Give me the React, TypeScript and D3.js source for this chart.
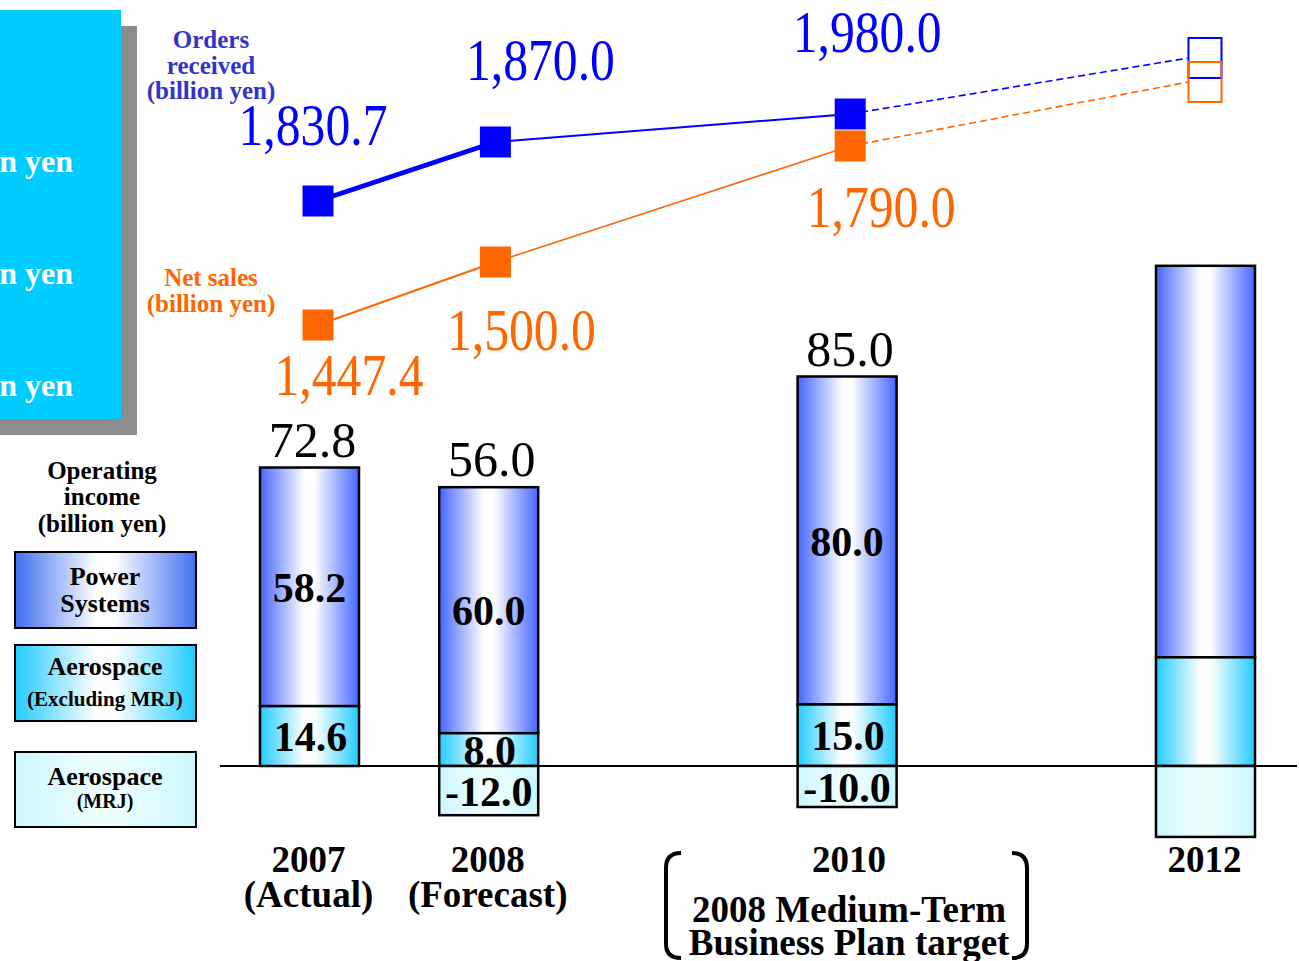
import React from "react";
import * as d3 from "d3";

// ---- data ----
const years = [2007, 2008, 2010, 2012];
const yearCaptions = [["2007", "(Actual)"], ["2008", "(Forecast)"], ["2010"], ["2012"]];
const powerSystems = [58.2, 60.0, 80.0, 95.5];
const aerospaceExMRJ = [14.6, 8.0, 15.0, 26.5];
const aerospaceMRJ = [0, -12.0, -10.0, -17.3];
const labelledBars = [true, true, true, false];
const ordersReceived = [1830.7, 1870.0, 1980.0, 2200.0];
const netSales = [1447.4, 1500.0, 1790.0, 1950.0];
const labelledPoints = [true, true, true, false];

const W = 1299;
const H = 961;
const SERIF = "'Liberation Serif', 'Times New Roman', serif";

const ORDERS_COLOR = "#0000ff";
const SALES_COLOR = "#ff6600";

// scales
const xBar = d3.scaleLinear().domain([2007, 2012]).range([309.5, 1205.5]);
const xLine = d3.scaleLinear().domain([2007, 2012]).range([318, 1205]);
const yBar = d3.scaleLinear().domain([0, 100]).range([766, 356]);
const yOrders = d3.scaleLinear().domain(ordersReceived.slice(0, 3)).range([201, 142, 114]);
const ySales = d3.scaleLinear().domain(netSales.slice(0, 3)).range([325, 262, 146]);

const BAR_W = 99;
const MARK = 31;
const fmtBig = d3.format(",.1f");
const fmt1 = (v: number) => v.toFixed(1);

// label offsets relative to each marker (layout)
const ordersLabelOffset = [[-5, -56], [45, -62], [17, -62]];
const salesLabelOffset = [[31, 70], [26, 88], [31, 81]];

function Grad({ id, edge, mid }: { id: string; edge: string; mid: string }) {
  return (
    <linearGradient id={id} x1="0" x2="1" y1="0" y2="0">
      <stop offset="0" stopColor={edge} />
      <stop offset="0.45" stopColor={mid} />
      <stop offset="0.55" stopColor={mid} />
      <stop offset="1" stopColor={edge} />
    </linearGradient>
  );
}

export default function App() {
  const bars = years.map((yr, i) => {
    const cx = xBar(yr);
    const x0 = cx - BAR_W / 2;
    const aero = aerospaceExMRJ[i];
    const power = powerSystems[i];
    const mrj = aerospaceMRJ[i];
    const total = power + aero + mrj;
    return { yr, i, cx, x0, aero, power, mrj, total };
  });

  const lineGen = d3.line<[number, number]>().x((d) => d[0]).y((d) => d[1]);

  const seriesPaths = (
    values: number[],
    yScale: d3.ScaleLinear<number, number>,
    color: string,
    widths: number[]
  ) => {
    const pts: [number, number][] = values.map((v, i) => [xLine(years[i]), yScale(v)]);
    const out: React.ReactNode[] = [];
    for (let i = 0; i < pts.length - 1; i++) {
      const solid = labelledPoints[i + 1];
      let b = pts[i + 1];
      if (!solid) b = [b[0] - 16.5, b[1]];
      out.push(
        <path
          key={`seg${i}`}
          d={lineGen([pts[i], b]) || ""}
          stroke={color}
          strokeWidth={solid ? widths[i] : 1.6}
          strokeDasharray={solid ? undefined : "7,4"}
          fill="none"
        />
      );
    }
    return { pts, out };
  };

  const orders = seriesPaths(ordersReceived, yOrders, ORDERS_COLOR, [5, 2]);
  const sales = seriesPaths(netSales, ySales, SALES_COLOR, [2, 1.6]);

  const markers = (pts: [number, number][], color: string, key: string) =>
    pts.map((p, i) =>
      labelledPoints[i] ? (
        <rect key={key + i} x={p[0] - MARK / 2} y={p[1] - MARK / 2} width={MARK} height={MARK} fill={color} />
      ) : (
        <rect key={key + i} x={p[0] - 16.5} y={p[1] - 20} width={33} height={40} fill="none" stroke={color} strokeWidth={2} />
      )
    );

  const boldText = (
    key: string,
    x: number,
    y: number,
    txt: string,
    size: number,
    fill = "#000",
    extra: Record<string, unknown> = {}
  ) => (
    <text key={key} x={x} y={y} fontFamily={SERIF} fontWeight="bold" fontSize={size} fill={fill} textAnchor="middle" {...extra}>
      {txt}
    </text>
  );

  const zeroY = yBar(0);

  return (
    <svg width={W} height={H} style={{ position: "absolute", left: 0, top: 0, background: "#fff" }}>
      <defs>
        <Grad id="gPower" edge="#4466ff" mid="#ffffff" />
        <Grad id="gAero" edge="#22ccff" mid="#ffffff" />
        <Grad id="gMRJ" edge="#ccf7ff" mid="#eefeff" />
        <Grad id="gPowerKey" edge="#3f6ff0" mid="#ffffff" />
      </defs>

      {/* cyan panel with drop shadow */}
      <rect x={-20} y={26} width={157} height={409} fill="#8c8c8c" />
      <rect x={-20} y={10} width={141} height={409} fill="#00ccff" />
      {[172, 284, 396].map((y, i) => (
        <text key={"py" + i} x={73} y={y} fontFamily={SERIF} fontWeight="bold" fontSize={32} fill="#fff" textAnchor="end">
          billion yen
        </text>
      ))}

      {/* series captions */}
      {boldText("o1", 211, 48, "Orders", 25, "#3333cc")}
      {boldText("o2", 211, 74, "received", 25, "#3333cc")}
      {boldText("o3", 211, 99, "(billion yen)", 25, "#3333cc")}
      {boldText("s1", 211, 286, "Net sales", 25, SALES_COLOR)}
      {boldText("s2", 211, 312, "(billion yen)", 25, SALES_COLOR)}

      {/* operating income key */}
      {boldText("k1", 102, 479, "Operating", 25)}
      {boldText("k2", 102, 505, "income", 25)}
      {boldText("k3", 102, 532, "(billion yen)", 25)}
      <rect x={15} y={552} width={181} height={76} fill="url(#gPowerKey)" stroke="#000" strokeWidth={2} />
      {boldText("k4", 105, 585, "Power", 26)}
      {boldText("k5", 105, 612, "Systems", 26)}
      <rect x={15} y={645} width={181} height={76} fill="url(#gAero)" stroke="#000" strokeWidth={2} />
      {boldText("k6", 105, 675, "Aerospace", 26)}
      {boldText("k7", 105, 706, "(Excluding MRJ)", 21)}
      <rect x={15} y={752} width={181} height={75} fill="url(#gMRJ)" stroke="#000" strokeWidth={2} />
      {boldText("k8", 105, 785, "Aerospace", 26)}
      {boldText("k9", 105, 808, "(MRJ)", 20)}

      {/* stacked operating income bars */}
      {bars.map((b) => (
        <g key={"bar" + b.yr}>
          <rect x={b.x0} y={yBar(b.aero + b.power)} width={BAR_W} height={yBar(b.aero) - yBar(b.aero + b.power)} fill="url(#gPower)" stroke="#000" strokeWidth={2.5} />
          <rect x={b.x0} y={yBar(b.aero)} width={BAR_W} height={zeroY - yBar(b.aero)} fill="url(#gAero)" stroke="#000" strokeWidth={2.5} />
          {b.mrj < 0 && (
            <rect x={b.x0} y={zeroY} width={BAR_W} height={yBar(b.mrj) - zeroY} fill="url(#gMRJ)" stroke="#000" strokeWidth={2.5} />
          )}
          {labelledBars[b.i] && (
            <>
              {boldText("lp", b.cx, (yBar(b.aero + b.power) + yBar(b.aero)) / 2 + 15, fmt1(b.power), 42)}
              {boldText("la", b.cx + 1, (yBar(b.aero) + zeroY) / 2 + 15, fmt1(b.aero), 42)}
              {b.mrj < 0 && boldText("lm", b.cx, (zeroY + yBar(b.mrj)) / 2 + 15, fmt1(b.mrj), 42)}
              <text x={b.cx + 3} y={yBar(b.aero + b.power) - 11} fontFamily={SERIF} fontSize={50} textAnchor="middle" fill="#000">
                {fmt1(b.total)}
              </text>
            </>
          )}
        </g>
      ))}

      {/* zero line */}
      <line x1={220} x2={1297} y1={zeroY} y2={zeroY} stroke="#000" strokeWidth={2} />

      {/* orders & net sales lines */}
      {sales.out}
      {orders.out}
      {markers(orders.pts, ORDERS_COLOR, "om")}
      {markers(sales.pts, SALES_COLOR, "sm")}

      {orders.pts.map((p, i) =>
        labelledPoints[i] ? (
          <text key={"ol" + i} x={p[0] + ordersLabelOffset[i][0]} y={p[1] + ordersLabelOffset[i][1]} fontFamily={SERIF} fontSize={60} fill={ORDERS_COLOR} textAnchor="middle" textLength={149} lengthAdjust="spacingAndGlyphs">
            {fmtBig(ordersReceived[i])}
          </text>
        ) : null
      )}
      {sales.pts.map((p, i) =>
        labelledPoints[i] ? (
          <text key={"sl" + i} x={p[0] + salesLabelOffset[i][0]} y={p[1] + salesLabelOffset[i][1]} fontFamily={SERIF} fontSize={60} fill={SALES_COLOR} textAnchor="middle" textLength={149} lengthAdjust="spacingAndGlyphs">
            {fmtBig(netSales[i])}
          </text>
        ) : null
      )}

      {/* year captions */}
      {years.map((yr, i) =>
        yearCaptions[i].map((t, j) => boldText(`yc${i}-${j}`, xBar(yr) + (i === 2 ? 2 : -1), 872 + j * 35, t, 37))
      )}
      {boldText("plan1", xBar(2010) + 2, 922, "2008 Medium-Term", 37)}
      {boldText("plan2", xBar(2010) + 2, 955, "Business Plan target", 37)}
      <path d="M681,853 Q666,853 666,868 L666,944 Q666,958 681,958" fill="none" stroke="#000" strokeWidth={4} />
      <path d="M1012,853 Q1027,853 1027,868 L1027,944 Q1027,958 1012,958" fill="none" stroke="#000" strokeWidth={4} />
    </svg>
  );
}
